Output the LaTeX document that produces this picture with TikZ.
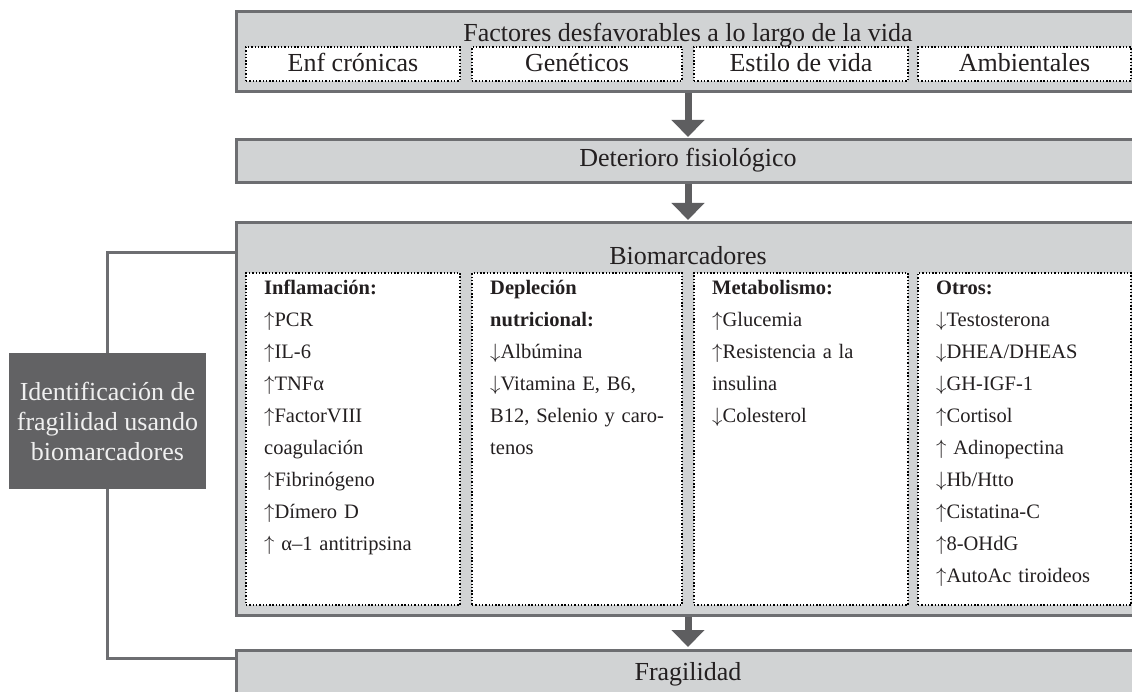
\documentclass[tikz,border=0pt]{standalone}
\usepackage{fontspec}
\setmainfont{Liberation Serif}
\usetikzlibrary{arrows.meta}
\definecolor{boxfill}{HTML}{D1D3D4}
\definecolor{boxline}{HTML}{6D6E71}
\definecolor{arrowgray}{HTML}{5E5E60}
\definecolor{darkfill}{HTML}{626264}
\definecolor{ink}{HTML}{231F20}
% thin, tall arrows for increases and decreases
\newcommand{\upmark}{\ensuremath{\uparrow}}
\newcommand{\dnmark}{\ensuremath{\downarrow}}
\begin{document}
\begin{tikzpicture}[x=1pt,y=-1pt,
  panel/.style={draw=boxline, fill=boxfill, line width=3pt, inner sep=0pt,
    minimum width=904pt, text=ink, font=\fontsize{26}{30}\selectfont},
  heading/.style={inner sep=0pt, anchor=base, text=ink, font=\fontsize{26}{30}\selectfont},
  dotbox/.style={draw=black, fill=white, line width=1.4pt,
    dash pattern=on 1.4pt off 1.9pt, inner sep=0pt, text=ink,
    font=\fontsize{26}{30}\selectfont},
  coltext/.style={inner sep=0pt, anchor=base west, text width=200pt, align=left,
    text=ink, font=\fontsize{20.5}{32}\selectfont},
  bigarrow/.style={draw=arrowgray, line width=7pt,
    -{Triangle[width=32pt,length=17pt]}, shorten >=1.5pt},
  connector/.style={draw=boxline, line width=3pt},
  idbox/.style={fill=darkfill, inner sep=0pt, align=center, text=white!94!black,
    font=\fontsize{26}{30}\selectfont}
]
\fill[white] (0,0) rectangle (1132,692);
\useasboundingbox (0,0) rectangle (1132,692);
\clip (0,0) rectangle (1132,692);

% factors panel
\node[panel, minimum height=80pt] (top) at (688,52) {};
\node[heading] (toptitle) at (688,42) {Factores desfavorables a lo largo de la vida};
\node[dotbox, minimum width=214pt, minimum height=34pt, text height=19pt, text depth=4pt] (f1) at (353,64) {Enf crónicas};
\node[dotbox, minimum width=210pt, minimum height=34pt, text height=19pt, text depth=4pt] (f2) at (577,64) {Genéticos};
\node[dotbox, minimum width=214pt, minimum height=34pt, text height=19pt, text depth=4pt] (f3) at (801,64) {Estilo de vida};
\node[dotbox, minimum width=213pt, minimum height=34pt, text height=19pt, text depth=4pt] (f4) at (1024.5,64) {Ambientales};

% physiological decline
\node[panel, minimum height=43pt, text height=17pt, text depth=6pt] (det) at (688,161.5) {Deterioro fisiológico};

% biomarkers panel
\node[panel, minimum height=392pt] (bio) at (688,419) {};
\node[heading] (biotitle) at (688,265) {Biomarcadores};
\node[dotbox, minimum width=214pt, minimum height=332pt] (c1) at (353,439) {};
\node[dotbox, minimum width=210pt, minimum height=332pt] (c2) at (577,439) {};
\node[dotbox, minimum width=214pt, minimum height=332pt] (c3) at (801,439) {};
\node[dotbox, minimum width=213pt, minimum height=332pt] (c4) at (1024.5,439) {};

\node[coltext] (t1) at (264,295) {\textbf{Inflamación:}\\ \upmark PCR\\ \upmark IL-6\\ \upmark TNFα\\ \upmark FactorVIII\\ coagulación\\ \upmark Fibrinógeno\\ \upmark Dímero D\\ \upmark\ α–1 antitripsina};
\node[coltext] (t2) at (490,295) {\textbf{Depleción}\\ \textbf{nutricional:}\\ \dnmark Albúmina\\ \dnmark Vitamina E, B6,\\ B12, Selenio y caro-\\ tenos};
\node[coltext] (t3) at (712,295) {\textbf{Metabolismo:}\\ \upmark Glucemia\\ \upmark Resistencia a la\\ insulina\\ \dnmark Colesterol};
\node[coltext] (t4) at (936,295) {\textbf{Otros:}\\ \dnmark Testosterona\\ \dnmark DHEA/DHEAS\\ \dnmark GH-IGF-1\\ \upmark Cortisol\\ \upmark\ Adinopectina\\ \dnmark Hb/Htto\\ \upmark Cistatina-C\\ \upmark 8-OHdG\\ \upmark AutoAc tiroideos};

% frailty
\node[panel, minimum height=44pt, text height=19pt, text depth=3pt] (frag) at (688,672) {Fragilidad};

% identification box
\node[idbox, minimum width=197pt, minimum height=136pt] (ident) at (107.5,421)
  {Identificación de\\ fragilidad usando\\ biomarcadores};

% flow arrows
\draw[bigarrow] (top.south) -- (det.north);
\draw[bigarrow] (det.south) -- (bio.north);
\draw[bigarrow] (bio.south) -- (frag.north);

% side connectors
\coordinate (bioin) at (236,253);
\coordinate (fragin) at (236,658);
\draw[connector] (bioin) -| (ident.north);
\draw[connector] (ident.south) |- (fragin);
\end{tikzpicture}
\end{document}
